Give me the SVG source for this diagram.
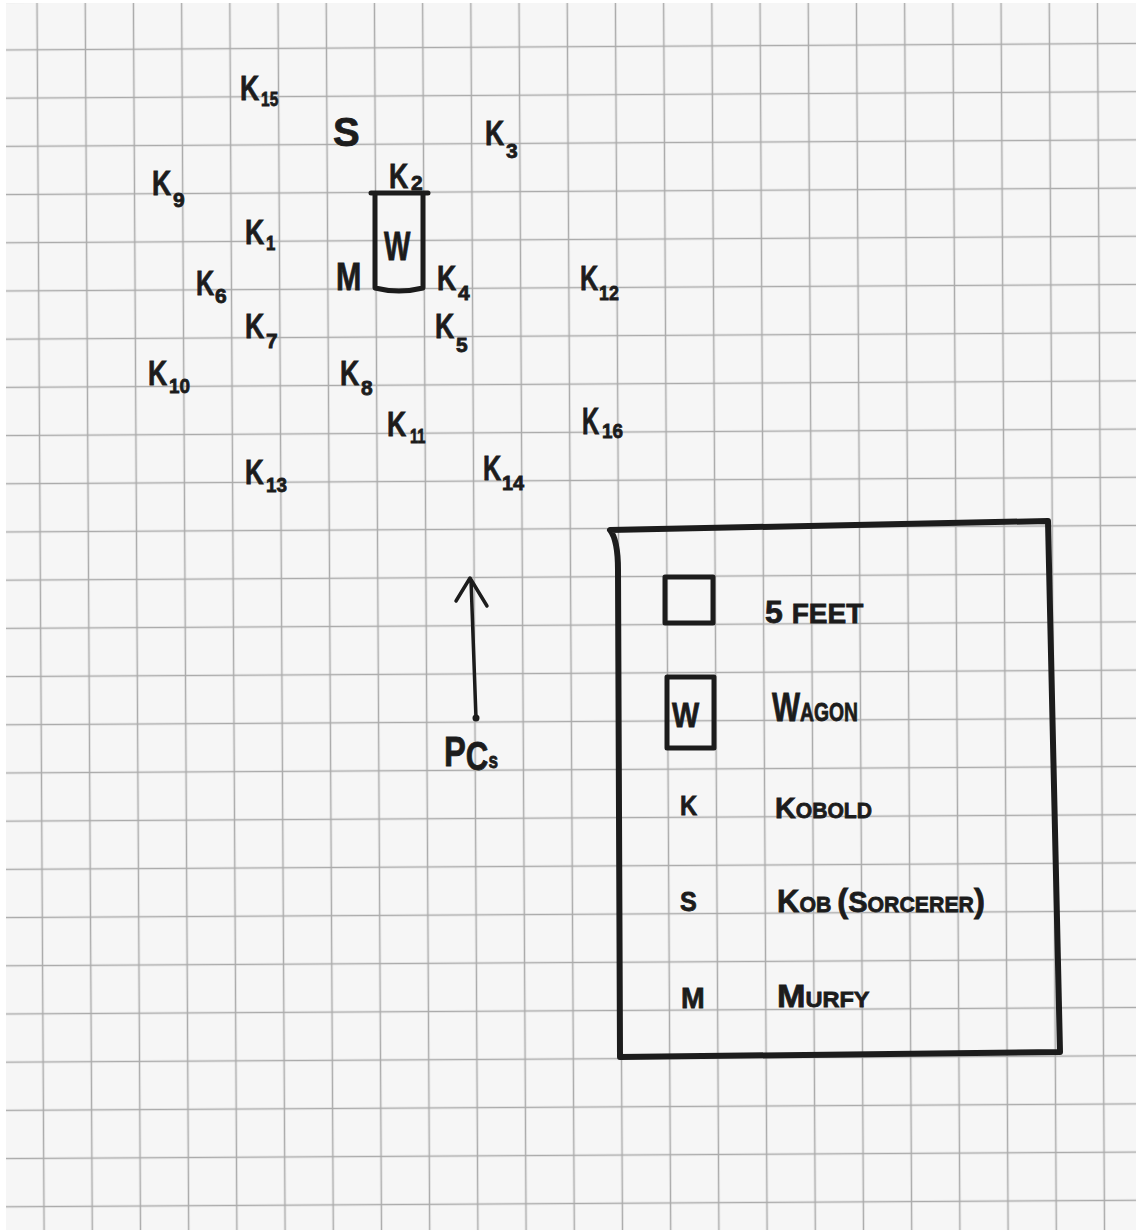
<svg xmlns="http://www.w3.org/2000/svg" width="1136" height="1230" viewBox="0 0 1136 1230">
<style>
.h{font-family:"Liberation Sans",Arial,sans-serif;font-weight:bold;fill:#1c1c1c;stroke:#1c1c1c;stroke-width:0.8}
.k{font-size:36px}
.sb{font-size:21px}
.ln{fill:none;stroke:#1c1c1c;stroke-linecap:round;stroke-linejoin:round}
</style>
<defs>
<pattern id="grid" width="48.2" height="48.2" patternUnits="userSpaceOnUse" patternTransform="rotate(-0.33) translate(12.9 25.9)">
<path d="M24.1,0 V48.2 M0,24.1 H48.2" stroke="#ababab" stroke-width="1.5" fill="none"/>
</pattern>
</defs>
<rect width="1136" height="1230" fill="#ffffff"/>
<rect x="6" y="3" width="1130" height="1227" fill="#f6f6f6"/>
<rect x="6" y="3" width="1130" height="1227" fill="url(#grid)"/>

<g id="connectors">
<path class="ln" stroke-width="3.5" d="M476,718 L471,580 M456,601 L470,578 L487,606"/>
<circle cx="476" cy="718" r="3.5" fill="#1c1c1c"/>
</g>

<g id="wagon">
<path class="ln" stroke-width="5" d="M371,193 H428 M375,193 V288 Q399,294 423,288 V193"/>
<text class="h" transform="translate(384 260) scale(0.7 1)" font-size="40" stroke-width="1.8">W</text>
</g>

<g id="K15"><text class="h k" transform="translate(240 100) scale(0.74 1)">K</text><text class="h sb" transform="translate(261 106) scale(0.74 1)">15</text></g>
<g id="S"><text class="h" transform="translate(333 146)" font-size="40">S</text></g>
<g id="K3"><text class="h k" transform="translate(485 145) scale(0.74 1)">K</text><text class="h sb" transform="translate(506 158)">3</text></g>
<g id="K2"><text class="h k" transform="translate(389 188) scale(0.74 1)">K</text><text class="h sb" transform="translate(411 190)">2</text></g>
<g id="K9"><text class="h k" transform="translate(152 195) scale(0.74 1)">K</text><text class="h sb" transform="translate(173 207)">9</text></g>
<g id="K1"><text class="h k" transform="translate(245 244) scale(0.74 1)">K</text><text class="h sb" transform="translate(266 250) scale(0.8 1)">1</text></g>
<g id="M"><text class="h" transform="translate(336 290) scale(0.8 1)" font-size="38">M</text></g>
<g id="K4"><text class="h k" transform="translate(437 290) scale(0.74 1)">K</text><text class="h sb" transform="translate(458 300)">4</text></g>
<g id="K6"><text class="h k" transform="translate(196 295) scale(0.7 1)">K</text><text class="h sb" transform="translate(215 303)">6</text></g>
<g id="K12"><text class="h k" transform="translate(580 290) scale(0.7 1)">K</text><text class="h sb" transform="translate(599 300) scale(0.85 1)">12</text></g>
<g id="K7"><text class="h k" transform="translate(245 338) scale(0.74 1)">K</text><text class="h sb" transform="translate(266 348)">7</text></g>
<g id="K5"><text class="h k" transform="translate(435 338) scale(0.74 1)">K</text><text class="h sb" transform="translate(456 352)">5</text></g>
<g id="K10"><text class="h k" transform="translate(148 385) scale(0.74 1)">K</text><text class="h sb" transform="translate(169 393) scale(0.9 1)">10</text></g>
<g id="K8"><text class="h k" transform="translate(340 385) scale(0.74 1)">K</text><text class="h sb" transform="translate(361 395)">8</text></g>
<g id="K11"><text class="h k" transform="translate(387 436) scale(0.74 1)" font-size="40">K</text><text class="h sb" transform="translate(410 443) scale(0.7 1)">11</text></g>
<g id="K16"><text class="h k" transform="translate(582 434) scale(0.66 1)" font-size="42">K</text><text class="h sb" transform="translate(602 438) scale(0.9 1)" font-size="25">16</text></g>
<g id="K13"><text class="h k" transform="translate(245 484) scale(0.72 1)" font-size="40">K</text><text class="h sb" transform="translate(266 492) scale(0.9 1)">13</text></g>
<g id="K14"><text class="h k" transform="translate(483 480) scale(0.7 1)">K</text><text class="h sb" transform="translate(502 490) scale(0.95 1)">14</text></g>

<g id="PCs"><text class="h" transform="translate(444 766) scale(0.78 1)"><tspan font-size="42">P</tspan><tspan font-size="40" dy="4">C</tspan><tspan font-size="22" dy="-2">s</tspan></text></g>

<g id="legend">
<path class="ln" stroke-width="6" d="M610,530 L1048,521 L1060,1052 L620,1057 L618,570 Q618,540 610,530 Z"/>
<rect class="ln" stroke-width="5" x="665" y="577" width="48" height="46"/>
<text class="h" transform="translate(765 623)"><tspan font-size="32">5 </tspan><tspan font-size="28">FEET</tspan></text>
<rect class="ln" stroke-width="5" x="667" y="677" width="47" height="71"/>
<text class="h" transform="translate(672 727) scale(0.8 1)" font-size="36" stroke-width="1.6">W</text>
<text class="h" transform="translate(772 721) scale(0.743 1)"><tspan font-size="40">W</tspan><tspan font-size="26">AGON</tspan></text>
<text class="h" transform="translate(680 815) scale(0.85 1)" font-size="28">K</text>
<text class="h" transform="translate(775 818) scale(0.96 1)"><tspan font-size="30">K</tspan><tspan font-size="22">OBOLD</tspan></text>
<text class="h" transform="translate(680 911) scale(0.9 1)" font-size="28">S</text>
<text class="h" transform="translate(777 912) scale(0.968 1)"><tspan font-size="32">K</tspan><tspan font-size="22">OB </tspan><tspan font-size="34">(</tspan><tspan font-size="30">S</tspan><tspan font-size="22">ORCERER</tspan><tspan font-size="34">)</tspan></text>
<text class="h" transform="translate(681 1008) scale(0.95 1)" font-size="30">M</text>
<text class="h" transform="translate(777 1007) scale(1.07 1)"><tspan font-size="32">M</tspan><tspan font-size="22">URFY</tspan></text>
</g>
</svg>
